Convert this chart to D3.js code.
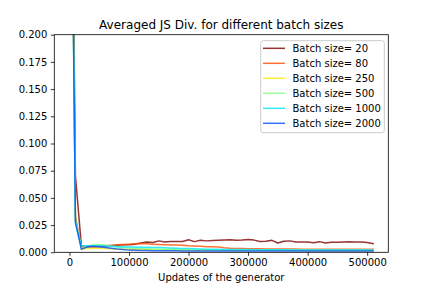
<!DOCTYPE html>
<html><head><meta charset="utf-8">
<script src="https://cdn.jsdelivr.net/npm/d3@7"></script>
<style>body{margin:0;background:#fff}svg{display:block}text{font-family:"DejaVu Sans",sans-serif}</style>
</head><body>
<svg id="c" width="432" height="288"></svg>
<script>
const updates = [0,10000,20000,30000,40000,50000,60000,70000,80000,90000,100000,110000,120000,130000,140000,150000,160000,170000,180000,190000,200000,210000,220000,230000,240000,250000,260000,270000,280000,290000,300000,310000,320000,330000,340000,350000,360000,370000,380000,390000,400000,410000,420000,430000,440000,450000,460000,470000,480000,490000,500000,510000];
const labels = ["Batch size= 20","Batch size= 80","Batch size= 250","Batch size= 500","Batch size= 1000","Batch size= 2000"];
const colors = ["#800000","#ff4d00","#ffe600","#80ff80","#00e6ff","#004dff"];
const bs20 = [0.60,0.070,0.006,0.005,0.005,0.005,0.0055,0.006,0.0065,0.007,0.007,0.0075,0.0085,0.0095,0.009,0.0105,0.0095,0.010,0.010,0.010,0.0115,0.0098,0.011,0.0105,0.0108,0.011,0.0112,0.0115,0.011,0.0112,0.0118,0.0112,0.010,0.0102,0.011,0.0085,0.0102,0.0105,0.0095,0.0095,0.0095,0.0088,0.0098,0.0085,0.0092,0.0092,0.0095,0.0098,0.0095,0.0095,0.009,0.008];
const bs80 = [0.58,0.033,0.005,0.005,0.0052,0.0055,0.006,0.0065,0.007,0.0072,0.0075,0.0078,0.008,0.0078,0.0075,0.0072,0.007,0.0068,0.0066,0.0064,0.006,0.0058,0.0055,0.0052,0.005,0.0048,0.0042,0.0038,0.0036,0.0034,0.0033,0.0032,0.0032,0.0031,0.0031,0.003,0.003,0.003,0.003,0.0029,0.0029,0.0029,0.0029,0.0029,0.0028,0.0028,0.0028,0.0028,0.0028,0.0028,0.0028,0.0028];
const bs250 = [0.56,0.030,0.003,0.0035,0.0037,0.0037,0.0035,0.0032,0.003,0.0028,0.0027,0.0026,0.0025,0.0024,0.0023,0.0022,0.0022,0.0021,0.0021,0.002,0.002,0.002,0.0019,0.0019,0.0019,0.0018,0.0018,0.0018,0.0018,0.0017,0.0017,0.0017,0.0017,0.0017,0.0016,0.0016,0.0016,0.0016,0.0016,0.0016,0.0016,0.0015,0.0015,0.0015,0.0015,0.0015,0.0015,0.0015,0.0015,0.0015,0.0015,0.0015];
const bs500 = [0.55,0.029,0.004,0.0055,0.007,0.0072,0.0065,0.0058,0.005,0.0045,0.004,0.0037,0.0034,0.0032,0.003,0.0029,0.0028,0.0027,0.0026,0.0025,0.0024,0.0024,0.0023,0.0023,0.0022,0.0022,0.0022,0.0021,0.0021,0.0021,0.0021,0.002,0.002,0.002,0.002,0.002,0.002,0.002,0.002,0.002,0.002,0.002,0.002,0.002,0.002,0.002,0.002,0.002,0.002,0.002,0.002,0.002];
const bs1000 = [0.55,0.028,0.006,0.006,0.006,0.006,0.0058,0.0055,0.0052,0.005,0.0049,0.0048,0.0047,0.0046,0.0045,0.0043,0.0041,0.004,0.0038,0.0036,0.0034,0.0032,0.003,0.0029,0.0028,0.0027,0.0026,0.0026,0.0025,0.0025,0.0025,0.0024,0.0024,0.0024,0.0023,0.0023,0.0023,0.0023,0.0022,0.0022,0.0022,0.0022,0.0022,0.0021,0.0021,0.0021,0.0021,0.0021,0.0021,0.002,0.002,0.002];
const bs2000 = [0.55,0.027,0.0028,0.005,0.0055,0.0052,0.0045,0.0038,0.003,0.0025,0.002,0.0018,0.0017,0.0016,0.0015,0.0015,0.0014,0.0014,0.0014,0.0013,0.0013,0.0013,0.0013,0.0013,0.0013,0.0012,0.0012,0.0012,0.0012,0.0012,0.0012,0.0012,0.0012,0.0012,0.0012,0.0012,0.0012,0.0012,0.0012,0.0012,0.0012,0.0012,0.0012,0.0012,0.0012,0.0012,0.0012,0.0012,0.0012,0.0012,0.0012,0.0012];
const series = [bs20,bs80,bs250,bs500,bs1000,bs2000];
const xTicks = [0,100000,200000,300000,400000,500000];
const yTicks = [0,0.025,0.05,0.075,0.1,0.125,0.15,0.175,0.2];
const title = "Averaged JS Div. for different batch sizes";
const xLabel = "Updates of the generator";

const L=54.3, R=388.3, T=34.7, B=252.3;
const svg = d3.select("#c");
const ext = d3.extent(updates), pad=(ext[1]-ext[0])*0.05;
const x = d3.scaleLinear().domain([ext[0]-pad, ext[1]+pad]).range([L,R]);
const y = d3.scaleLinear().domain([0,0.2]).range([B,T]);

svg.append("defs").append("clipPath").attr("id","clip").append("rect")
  .attr("x",L).attr("y",T).attr("width",R-L).attr("height",B-T);

const line = d3.line().x((d,i)=>x(updates[i])).y(d=>y(d));
const g = svg.append("g").attr("clip-path","url(#clip)");
series.forEach((s,k)=>{
  g.append("path").datum(s).attr("d",line).attr("fill","none")
   .attr("stroke",colors[k]).attr("stroke-width",1.5).attr("stroke-opacity",0.8)
   .attr("stroke-linejoin","round").attr("stroke-linecap","square");
});

const xa = svg.append("g").attr("transform",`translate(0,${B})`)
  .call(d3.axisBottom(x).tickValues(xTicks).tickFormat(d3.format("d")).tickSize(3.5).tickPadding(3.5));
const ya = svg.append("g").attr("transform",`translate(${L},0)`)
  .call(d3.axisLeft(y).tickValues(yTicks).tickFormat(d3.format(".3f")).tickSize(3.5).tickPadding(3.5));
[xa,ya].forEach(a=>{
  a.select(".domain").remove();
  a.selectAll("line").attr("stroke","#000").attr("stroke-width",0.8);
  a.selectAll("text").attr("font-size",10).attr("fill","#000").attr("font-family","DejaVu Sans");
});
svg.append("rect").attr("x",L).attr("y",T).attr("width",R-L).attr("height",B-T)
  .attr("fill","none").attr("stroke","#000").attr("stroke-width",0.8);

svg.append("text").attr("x",(L+R)/2).attr("y",T-6).attr("text-anchor","middle")
  .attr("font-size",12).text(title);
svg.append("text").attr("x",(L+R)/2).attr("y",281).attr("text-anchor","middle")
  .attr("font-size",10).text(xLabel);

const lg = svg.append("g");
lg.append("rect").attr("x",260.7).attr("y",40.7).attr("width",123.6).attr("height",92)
  .attr("rx",2.5).attr("fill","#fff").attr("fill-opacity",0.8).attr("stroke","#cccccc").attr("stroke-width",1);
labels.forEach((t,k)=>{
  const yy = 48.3 + k*15;
  lg.append("line").attr("x1",263).attr("x2",285).attr("y1",yy).attr("y2",yy)
    .attr("stroke",colors[k]).attr("stroke-width",1.5).attr("stroke-opacity",0.8);
  lg.append("text").attr("x",292.5).attr("y",yy).attr("dy","0.36em").attr("font-size",10).text(t);
});
</script>
</body></html>
